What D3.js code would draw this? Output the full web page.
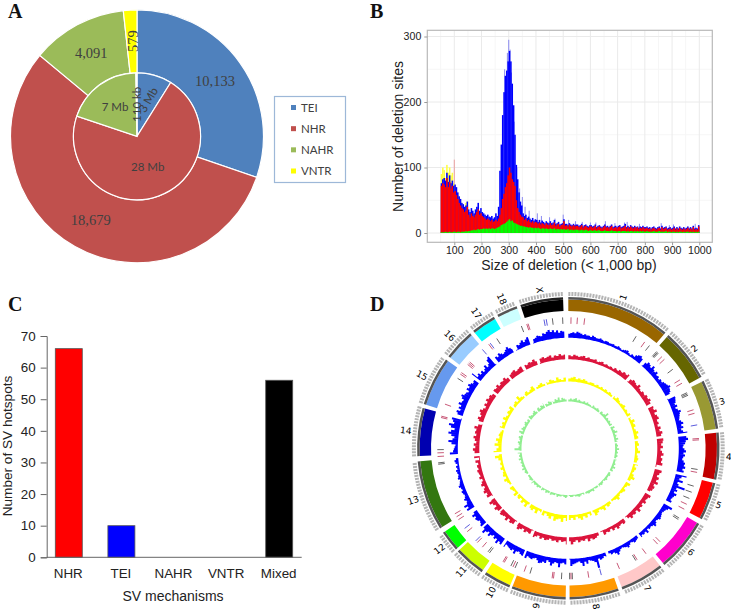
<!DOCTYPE html>
<html>
<head>
<meta charset="utf-8">
<script src="https://cdnjs.cloudflare.com/ajax/libs/d3/7.8.5/d3.min.js"></script>
<style>
html, body { margin: 0; padding: 0; background: #fff; }
svg { display: block; }
text { font-family: "Liberation Sans", Arial, sans-serif; }
.soft { filter: blur(0.45px); }
</style>
</head>
<body>
<svg id="fig" width="731" height="610"></svg>
<script>
// ===== Data: panel A (pie) =====
const mechanisms = ['TEI', 'NHR', 'NAHR', 'VNTR'];
const mechColors = ['#4f81bd', '#c0504d', '#9bbb59', '#ffff00'];
const sitesCount = [10133, 18679, 4091, 579];
const sitesLabels = ['10,133', '18,679', '4,091', '579'];
const basesMb = [3.5, 28, 7.7, 0.11];
const basesLabels = ['3 Mb', '28 Mb', '7 Mb', '110 kb'];

// ===== Data: panel B (deletion size histogram, one value per 5 bp from 50 bp) =====
const teiCounts = [
    76,82,84,80,92,78,88,76,80,72, 74,70,62,56,52,46,44,40,42,48,
    36,32,38,34,30,36,40,46,34,38, 32,30,28,26,28,25,24,26,22,24,
    30,26,40,95,135,180,215,240,248,262, 278,262,228,195,150,104,82,62,48,42,
    30,26,28,23,25,22,20,23,19,21, 20,17,20,16,19,17,15,18,16,15,
    18,15,16,20,14,15,17,13,14,15, 21,14,14,12,15,13,12,14,12,13,
    13,11,12,14,10,12,13,11,10,12, 12,10,11,13,9,11,12,10,9,11,
    13,10,11,9,11,13,9,10,11,9, 11,12,9,10,11,14,9,11,9,12,
    10,9,11,9,10,8,10,9,11,9, 9,10,8,9,7,9,10,8,7,9,
    10,7,11,8,9,10,7,8,9,7, 8,10,7,9,7,10,8,7,9,7,
    8,10,7,9,7,11,7,8,7,12
];
const nhrCounts = [
    72,76,74,70,84,70,78,68,72,62, 64,58,52,46,42,38,36,32,34,40,
    28,24,30,26,24,28,32,36,28,30, 26,24,22,20,22,20,18,20,17,18,
    20,18,22,28,38,52,60,70,76,88, 100,92,82,78,72,50,38,32,28,25,
    24,20,22,18,20,17,16,18,15,17, 16,14,16,13,15,14,12,15,13,12,
    15,12,13,16,11,13,14,10,12,13, 18,11,12,10,13,11,10,12,10,11,
    11,9,10,12,8,10,11,9,8,10, 10,8,9,11,7,9,10,8,7,9,
    11,8,9,7,9,11,7,8,9,7, 9,10,7,8,9,11,7,9,7,10,
    8,7,9,7,9,6,8,7,9,7, 7,8,6,7,5,7,8,6,5,7,
    8,5,9,6,7,8,5,6,7,5, 6,8,5,7,5,8,6,5,7,5,
    6,8,5,7,5,9,5,6,5,10
];
const nahrCounts = [
    1,1,1,2,1,1,2,1,1,2, 2,1,2,2,1,2,2,2,3,2,
    3,3,4,4,5,4,5,6,5,6, 6,7,6,7,6,7,6,7,7,6,
    7,8,9,10,12,13,14,15,17,19, 21,18,19,16,15,14,13,12,11,11,
    10,10,9,9,8,9,8,8,7,8, 7,8,7,6,7,7,6,7,6,6,
    7,6,6,7,5,6,6,5,6,5, 6,5,5,6,4,5,5,4,5,5,
    5,4,4,5,4,4,5,4,3,4, 4,3,4,4,3,4,4,3,3,3,
    4,3,3,3,3,4,3,3,3,2, 3,3,2,3,3,3,2,3,2,3,
    3,2,3,2,3,2,3,2,3,2, 2,3,2,2,2,2,3,2,2,2,
    3,2,2,2,2,3,1,2,2,1, 2,2,1,2,1,2,2,1,2,1,
    2,2,1,2,1,2,1,2,1,2
];
const vntrCounts = [
    90,100,96,84,104,92,100,88,92,76, 70,64,58,52,48,44,40,36,46,48,
    30,26,32,28,26,30,34,38,30,32
];
const tipSizes = [100, 285, 295, 300, 305, 310, 320, 330, 340, 350, 360, 375, 405, 420, 450, 470, 500, 520, 545, 570, 600, 620, 655, 690, 725, 735, 780, 860, 890, 905, 985];
const tipCounts = [112, 250, 275, 295, 280, 245, 170, 100, 68, 55, 40, 34, 30, 26, 24, 22, 28, 20, 18, 17, 16, 16, 18, 15, 16, 17, 14, 15, 12, 13, 14];
const sizeTicks = [100, 200, 300, 400, 500, 600, 700, 800, 900, 1000];
const countTicks = [0, 100, 200, 300];

// ===== Data: panel C (bars) =====
const hotspotCats = ['NHR', 'TEI', 'NAHR', 'VNTR', 'Mixed'];
const hotspotVals = [66, 10, 0, 0, 56];
const hotspotColors = ['#ff0000', '#0000ff', '#9bbb59', '#ffff00', '#000000'];
const hotspotTicks = [0, 10, 20, 30, 40, 50, 60, 70];

// ===== Data: panel D (circular genome plot, angles in degrees clockwise from top) =====
const chromNames = ['1','2','3','4','5','6','7','8','9','10','11','12','13','14','15','16','17','18','X'];
const chromStart = [0, 41.5, 63.5, 84, 103.4, 120, 142, 160.5, 181, 203, 215, 228, 238, 267, 287, 307.5, 321, 332, 341.5];
const chromEnd = [40, 61.8, 82.5, 102, 118, 140.5, 159, 179.5, 202, 213.5, 227, 236, 265, 285.5, 306, 319.5, 330.5, 340, 358];
const chromColors = ['#996600','#666600','#999933','#c00000','#ff0000','#ff00cc','#ffc8c8','#ff9900','#ff9900','#ffff00','#ccff00','#00ff00','#337710','#0000b0','#6699ee','#99ccff','#00ffff','#ccffff','#000000'];

const hotspotAngles = [1.2,4,7.2,31.2,35.7,38.3,42.4,42.9,43.4,45.6,47.2,52.9,58.5,60.2,64.9,65.5,66.1,72.9,74.5,79.7,85.7,86.3,99.3,100.6,106.8,109.6,112.5,115.3,117.7,122.2,122.9,135.5,137,143.6,148.3,149,157,165.4,171,178.2,178.8,179.4,183,186.5,187.1,197,199.7,204,205,206,209.3,209.9,217,217.8,221,224,225,230.5,232.3,237,238.5,240,263,263.6,266.4,268,269.4,283.6,284.2,289.7,302.3,304.5,305.3,309.8,310.5,311.2,319,322.6,323.4,326.9,339,341.5,342.1,349.3,350.3,353,357.5];
const hotspotKinds = ['r','r','r','k','r','k','k','k','k','r','r','k','r','r','k','k','k','r','r','b','r','r','k','r','k','k','k','r','r','k','k','r','r','r','r','k','r','b','r','k','r','k','k','r','r','k','r','k','r','k','r','r','k','k','r','r','b','r','b','r','r','r','k','k','r','r','k','r','r','r','k','r','r','r','r','r','b','r','b','k','k','r','r','b','b','k','k'];

const tei1deg = [
    5,6,7,6,8,7,6,5,6,5, 5,4,6,5,4,4,5,4,3,4, 4,3,3,4,3,3,4,3,2,3, 4,5,3,2,4,3,6,8,9,7,
    0,0,6,9,8,6,10,7,6,8, 5,6,4,6,5,7,8,9,11,9, 8,6,0,0,10,9,8,6,8,5, 7,10,8,7,6,5,7,9,6,8,
    5,7,12,0,10,12,9,8,6,5, 7,9,6,8,6,5,7,9,8,10, 7,9,0,14,8,6,11,5,7,16, 6,8,5,9,7,6,5,7,0,0,
    12,8,6,5,4,5,6,7,5,4, 6,8,5,4,5,3,7,4,5,4, 6,0,4,5,6,4,3,5,7,5, 4,3,4,6,9,6,4,5,3,0,
    5,4,6,7,5,16,8,6,5,4, 8,5,10,6,4,5,6,7,9,0, 0,7,5,6,11,6,5,7,10,6, 4,8,7,9,10,7,5,6,8,7,
    6,9,0,8,7,5,6,10,6,8, 7,6,5,9,0,9,7,11,6,8, 5,7,10,6,8,12,7,0,8,6, 5,7,8,6,9,5,10,0,10,7,
    11,6,5,7,5,4,5,6,4,5, 7,5,4,3,5,4,3,4,5,3, 4,2,4,5,3,0,0,10,6,5, 4,3,8,12,7,5,9,13,10,6,
    11,14,8,10,12,0,0,7,9,5, 8,6,10,7,6,9,11,8,7,5, 9,7,10,8,6,7,0,14,6,8, 5,7,4,6,9,5,7,12,14,0,
    0,8,6,9,7,5,6,8,10,7, 5,0,0,6,5,7,9,6,8,10, 7,0,5,6,8,7,6,9,8,10, 12,9,11,8,10,7,9,8,0,0
];
const nhr15deg = [
    5,4,6,5,4,5,6,4,5,4, 4,5,3,4,5,3,4,3,4,3, 5,4,6,5,7,6,8,0,5,7, 6,5,8,5,4,6,5,7,6,8,
    6,0,7,6,9,5,7,8,5,6, 4,7,5,8,6,0,8,7,5,7, 4,6,8,5,7,6,8,0,6,9, 7,5,8,6,9,5,7,6,4,0,
    8,6,5,7,4,6,5,8,4,6, 5,7,4,0,5,6,4,5,7,4, 6,3,5,4,6,0,5,4,6,7, 5,8,4,6,5,7,4,6,9,5,
    9,5,6,4,7,5,6,4,6,7, 5,7,4,6,8,0,6,5,7,4, 6,8,5,0,6,7,4,8,5,6, 7,5,6,8,4,6,9,5,0,7,
    5,8,6,4,7,5,3,6,4,5, 6,4,5,3,6,0,7,4,6,8, 5,7,4,6,8,5,7,6,9,5, 0,6,8,5,7,9,6,4,7,5,
    8,6,7,5,0,7,6,8,5,7, 6,8,5,0,6,7,8,5,6,7, 0,6,5,7,6,8,5,0,6,7, 5,6,7,4,6,5,7,5,6,0
];
const vntr2deg = [
    3,4,5,3,4,3,4,3,2,3, 3,2,3,2,3,2,3,2,3,2, 3,2,4,3,2,3,4,2,3,2, 4,3,2,5,3,4,2,3,5,3,
    4,2,3,4,2,3,5,2,3,4, 3,5,2,4,3,2,4,6,3,2, 5,3,2,4,3,2,3,5,3,2, 2,3,4,2,5,3,2,4,6,2,
    4,2,5,3,6,4,2,5,3,5, 6,3,7,4,5,7,3,6,4,2, 5,3,2,6,3,5,4,2,6,3, 5,2,4,3,5,2,3,4,5,2,
    3,5,2,4,3,2,4,2,3,2, 4,7,3,8,5,3,7,4,6,3, 4,3,2,5,3,4,2,5,3,2, 4,3,5,2,3,4,2,6,3,2,
    3,4,2,3,5,3,2,3,4,2, 3,2,4,3,2,5,3,2,4,3
];
const nahr2deg = [
    2,3,2,3,4,2,3,2,2,3, 2,3,2,2,1,3,2,2,3,2, 2,3,2,3,6,2,3,2,3,2, 3,2,4,2,3,5,2,3,2,4,
    2,3,2,3,2,4,2,3,2,3, 2,3,2,2,3,2,4,2,3,2, 2,3,2,2,3,2,1,2,3,2, 3,2,2,1,3,2,2,3,2,2,
    2,1,2,3,2,2,1,2,2,1, 2,3,2,1,2,2,3,1,2,2, 3,2,2,3,1,2,3,2,2,3, 2,3,2,4,2,3,2,2,4,2,
    3,2,4,2,3,2,3,2,4,2, 3,2,4,2,7,3,2,3,4,2, 3,4,2,3,5,2,4,3,2,3, 4,2,3,2,4,3,2,3,4,2,
    3,4,2,4,3,5,3,2,4,3, 3,2,4,3,5,2,4,3,2,3
];

// ===== Setup =====
const svg = d3.select('#fig');
const toRad = d3.scaleLinear().domain([0, 360]).range([0, 2 * Math.PI]);

function panelLetter(label, x, y) {
    svg.append('text')
        .attr('x', x).attr('y', y)
        .style('font-family', '"Liberation Serif", "Times New Roman", serif')
        .style('font-weight', 'bold')
        .style('font-size', '20px')
        .style('fill', '#111')
        .text(label);
}
panelLetter('A', 8, 18);
panelLetter('B', 370, 18);
panelLetter('C', 8, 311);
panelLetter('D', 370, 311);

// ===== Panel A: nested pie =====
function drawPanelA() {
    const g = svg.append('g').attr('transform', 'translate(137,136.3)');
    const pie = d3.pie().sort(null).value(d => d);
    const outerArc = d3.arc().innerRadius(63.5).outerRadius(126.5);
    const innerArc = d3.arc().innerRadius(0).outerRadius(63.5);

    g.selectAll('path.outer').data(pie(sitesCount)).join('path')
        .attr('class', 'outer')
        .attr('d', outerArc)
        .style('fill', (d, i) => mechColors[i])
        .style('stroke', '#fff')
        .style('stroke-width', '1.2px');

    g.selectAll('path.inner').data(pie(basesMb)).join('path')
        .attr('class', 'inner')
        .attr('d', innerArc)
        .style('fill', (d, i) => mechColors[i])
        .style('stroke', '#fff')
        .style('stroke-width', '1.2px');

    // Data labels were hand placed in the original, so they sit on fixed offsets
    const outerPos = [[78, -55.5], [-46.3, 84], [-45.7, -83.6], [-4.3, -95.3, -90]];
    const innerPos = [[11.3, -36.3, -60], [10.7, 30.4], [-22, -29.6], [0.3, -32, -90]];

    sitesLabels.forEach((label, i) => {
        const [x, y, rot] = outerPos[i];
        g.append('text')
            .attr('transform', `translate(${x},${y}) rotate(${rot || 0})`)
            .attr('text-anchor', 'middle').attr('dy', '0.35em')
            .style('font-family', '"Liberation Serif", serif')
            .style('font-size', '14.5px')
            .style('fill', '#404040')
            .text(label);
    });
    basesLabels.forEach((label, i) => {
        const [x, y, rot] = innerPos[i];
        g.append('text')
            .attr('transform', `translate(${x},${y}) rotate(${rot || 0})`)
            .attr('text-anchor', 'middle').attr('dy', '0.35em')
            .style('font-family', 'Lato, sans-serif')
            .style('font-size', '11.5px')
            .style('fill', '#404040')
            .text(label);
    });

    // Legend
    const legend = svg.append('g');
    legend.append('rect')
        .attr('x', 274.5).attr('y', 96.5).attr('width', 71).attr('height', 86)
        .style('fill', '#fff')
        .style('stroke', '#9db8d8')
        .style('stroke-width', '1.2px');
    const legendY = d3.scalePoint().domain(mechanisms).range([107.5, 171]);
    mechanisms.forEach((name, i) => {
        legend.append('rect')
            .attr('x', 291).attr('y', legendY(name) - 2.5).attr('width', 5).attr('height', 5)
            .style('fill', mechColors[i]);
        legend.append('text')
            .attr('x', 301).attr('y', legendY(name)).attr('dy', '0.36em')
            .style('font-family', 'Lato, sans-serif')
            .style('font-size', '11.5px')
            .style('fill', '#404040')
            .text(name);
    });
}

// ===== Panel B: overlaid deletion size histograms =====
function drawPanelB() {
    const g = svg.append('g');
    const panel = { left: 427.3, right: 712.3, top: 30.3, bottom: 242.3 };
    const x = d3.scaleLinear().domain([100, 1000]).range([454.3, 699.3]);
    const y = d3.scaleLinear().domain([0, 300]).range([233, 36.5]);
    const binWidth = x(105) - x(100);

    // Grid
    const minorX = d3.range(50, 1050, 100);
    const minorY = [50, 150, 250];
    g.selectAll('line.minorx').data(minorX).join('line')
        .attr('x1', d => x(d)).attr('x2', d => x(d))
        .attr('y1', panel.top).attr('y2', panel.bottom)
        .style('stroke', '#f6f6f6');
    g.selectAll('line.minory').data(minorY).join('line')
        .attr('x1', panel.left).attr('x2', panel.right)
        .attr('y1', d => y(d)).attr('y2', d => y(d))
        .style('stroke', '#f6f6f6');
    g.selectAll('line.gridx').data(sizeTicks).join('line')
        .attr('x1', d => x(d)).attr('x2', d => x(d))
        .attr('y1', panel.top).attr('y2', panel.bottom)
        .style('stroke', '#eaeaea');
    g.selectAll('line.gridy').data(countTicks).join('line')
        .attr('x1', panel.left).attr('x2', panel.right)
        .attr('y1', d => y(d)).attr('y2', d => y(d))
        .style('stroke', '#eaeaea');

    // Histogram bars, back to front
    const marks = g.append('g').attr('class', 'soft');
    const series = [
        { values: vntrCounts, color: '#ffff40' },
        { values: teiCounts, color: '#0000ff' },
        { values: nhrCounts, color: '#ff0000' },
        { values: nahrCounts, color: '#00ff00' }
    ];
    marks.selectAll('line.tip').data(tipSizes).join('line')
        .attr('x1', d => x(d)).attr('x2', d => x(d))
        .attr('y1', y(0))
        .attr('y2', (d, i) => y(tipCounts[i]))
        .style('stroke', d => d === 100 ? '#eaa0a0' : '#8a8af0')
        .style('stroke-width', '1px');
    series.forEach(s => {
        marks.append('g').selectAll('rect').data(s.values).join('rect')
            .attr('x', (d, i) => x(50 + i * 5))
            .attr('width', binWidth + 0.2)
            .attr('y', d => y(d))
            .attr('height', d => y(0) - y(d))
            .style('fill', s.color);
    });

    // Panel border
    g.append('rect')
        .attr('x', panel.left).attr('y', panel.top)
        .attr('width', panel.right - panel.left).attr('height', panel.bottom - panel.top)
        .style('fill', 'none')
        .style('stroke', '#b8b8b8')
        .style('stroke-width', '1.2px');

    // Axes
    const xAxis = g.append('g')
        .attr('transform', `translate(0,${panel.bottom})`)
        .call(d3.axisBottom(x).tickValues(sizeTicks).tickFormat(d3.format('d')).tickSize(3).tickPadding(1.5));
    const yAxis = g.append('g')
        .attr('transform', `translate(${panel.left},0)`)
        .call(d3.axisLeft(y).tickValues(countTicks).tickFormat(d3.format('d')).tickSize(3).tickPadding(3));
    [xAxis, yAxis].forEach(a => {
        a.select('.domain').remove();
        a.selectAll('line').style('stroke', '#999');
        a.selectAll('text').style('font-family', '"Liberation Sans"').style('fill', '#222');
    });
    xAxis.selectAll('text').style('font-size', '10.6px');
    yAxis.selectAll('text').style('font-size', '10.6px');

    g.append('text')
        .attr('x', 569).attr('y', 269.5)
        .attr('text-anchor', 'middle')
        .style('font-size', '14px').style('fill', '#222')
        .text('Size of deletion (< 1,000 bp)');
    g.append('text')
        .attr('transform', 'translate(403,136.5) rotate(-90)')
        .attr('text-anchor', 'middle')
        .style('font-size', '14px').style('fill', '#222')
        .text('Number of deletion sites');
}

// ===== Panel C: hotspot bars =====
function drawPanelC() {
    const g = svg.append('g');
    const x = d3.scaleBand().domain(hotspotCats).range([55.3, 292.7]).paddingInner(0.487);
    const y = d3.scaleLinear().domain([0, 70]).range([557.3, 336]);

    g.selectAll('rect').data(hotspotCats).join('rect')
        .attr('x', d => x(d))
        .attr('y', (d, i) => y(hotspotVals[i]))
        .attr('width', x.bandwidth())
        .attr('height', (d, i) => y(0) - y(hotspotVals[i]))
        .style('fill', (d, i) => hotspotColors[i])
        .style('stroke', '#555')
        .style('stroke-width', '0.8px');

    const yAxis = g.append('g')
        .attr('transform', 'translate(46.7,0)')
        .call(d3.axisLeft(y).tickValues(hotspotTicks).tickSize(6).tickPadding(5));
    yAxis.select('.domain').style('stroke', '#666');
    yAxis.selectAll('line').style('stroke', '#666');
    yAxis.selectAll('text').style('font-size', '13.4px').style('font-family', '"Liberation Sans"').style('fill', '#222');

    g.append('line')
        .attr('x1', 46.7).attr('x2', 301.7)
        .attr('y1', y(0)).attr('y2', y(0))
        .style('stroke', '#666');

    hotspotCats.forEach(name => {
        g.append('text')
            .attr('x', x(name) + x.bandwidth() / 2 - 0.5).attr('y', 577.5)
            .attr('text-anchor', 'middle')
            .style('font-size', '13.4px').style('fill', '#222')
            .text(name);
    });
    g.append('text')
        .attr('x', 173).attr('y', 600.5)
        .attr('text-anchor', 'middle')
        .style('font-size', '14px').style('fill', '#222')
        .text('SV mechanisms');
    g.append('text')
        .attr('transform', 'translate(12.4,446) rotate(-90)')
        .attr('text-anchor', 'middle')
        .style('font-size', '13.6px').style('fill', '#222')
        .text('Number of SV hotspots');
}

// ===== Panel D: circular genome plot =====
function drawPanelD() {
    const g = svg.append('g').attr('transform', 'translate(568.3,448.3)');
    const marks = g.append('g').attr('class', 'soft');

    // Chromosome bands with the dark cytoband edge and the scale tick boxes
    chromNames.forEach((name, i) => {
        const a0 = chromStart[i];
        const a1 = chromEnd[i];
        marks.append('path')
            .attr('d', d3.arc()({ innerRadius: 137.3, outerRadius: 148.7, startAngle: toRad(a0), endAngle: toRad(a1) }))
            .style('fill', chromColors[i]);
        marks.append('path')
            .attr('d', d3.arc()({ innerRadius: 148.7, outerRadius: 151.2, startAngle: toRad(a0), endAngle: toRad(a1) }))
            .style('fill', i === 18 ? '#222' : '#555');
        marks.selectAll(null).data(d3.range(a0 + 0.4, a1, 1.12)).join('line')
            .attr('x1', d => 152.4 * Math.sin(toRad(d))).attr('y1', d => -152.4 * Math.cos(toRad(d)))
            .attr('x2', d => 156.4 * Math.sin(toRad(d))).attr('y2', d => -156.4 * Math.cos(toRad(d)))
            .style('stroke', '#b4b4b4')
            .style('stroke-width', '2px');

        // Radial labels start just outside the tick boxes
        const mid = (a0 + a1) / 2;
        const rightHalf = mid < 180;
        const rot = rightHalf ? -90 : 90;
        g.append('text')
            .attr('transform', `rotate(${mid}) translate(0,-157.8) rotate(${rot})`)
            .attr('text-anchor', rightHalf ? 'start' : 'end').attr('dy', '0.35em')
            .style('font-family', '"DejaVu Sans", sans-serif')
            .style('font-size', '9px')
            .style('fill', '#000')
            .text(name);
    });

    // Hotspot tick track
    const kindColor = { r: '#c2476a', k: '#555', b: '#4a4ad8' };
    marks.selectAll('line.hot').data(hotspotAngles).join('line')
        .attr('x1', d => 124.5 * Math.sin(toRad(d))).attr('y1', d => -124.5 * Math.cos(toRad(d)))
        .attr('x2', d => 131 * Math.sin(toRad(d))).attr('y2', d => -131 * Math.cos(toRad(d)))
        .style('stroke', (d, i) => kindColor[hotspotKinds[i]])
        .style('stroke-width', '0.9px');

    // Density histograms, cut at the chromosome ends
    const tracks = [
        { values: tei1deg, step: 1, base: 110.5, top: 20, color: '#0000ff' },
        { values: nhr15deg, step: 1.5, base: 89, top: 20, color: '#dc143c' },
        { values: vntr2deg, step: 2, base: 66.8, top: 16, color: '#ffff00' },
        { values: nahr2deg, step: 2, base: 46.8, top: 16, color: '#90ee90' }
    ];
    tracks.forEach(t => {
        const r = d3.scaleLinear().domain([0, t.top]).range([t.base, t.base + 16]);
        const arc = d3.arc();
        const parts = [];
        chromNames.forEach((name, c) => {
            t.values.forEach((v, i) => {
                const a0 = Math.max(i * t.step, chromStart[c]);
                const a1 = Math.min((i + 1) * t.step, chromEnd[c]);
                if (a1 <= a0) return;
                parts.push(arc({
                    innerRadius: t.base,
                    outerRadius: r(Math.max(v, 1)),
                    startAngle: toRad(a0),
                    endAngle: toRad(a1)
                }));
            });
        });
        marks.append('path').attr('d', parts.join('')).style('fill', t.color);
    });
}

drawPanelA();
drawPanelB();
drawPanelC();
drawPanelD();
</script>
</body>
</html>
